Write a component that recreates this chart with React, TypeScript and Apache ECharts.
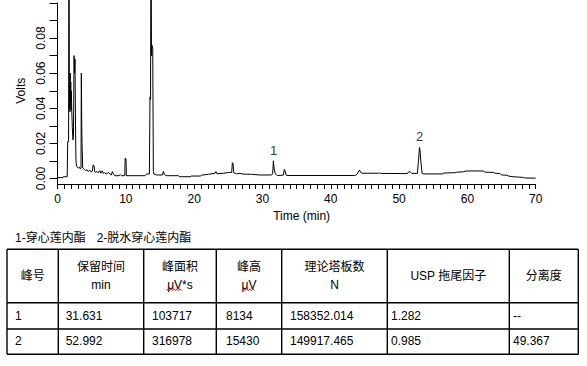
import React, { useEffect, useRef } from "react";
import * as echarts from "echarts";

// ---- chromatogram trace (time in min, signal in volts) ----
const traceTime = [
  0, 0.8, 0.85, 1.42, 1.49, 1.62, 1.68, 1.74, 1.78, 1.82, 1.86, 1.9, 1.94, 1.98, 2.03, 2.08, 2.17, 2.26, 2.34,
  2.42, 2.5, 2.56, 2.64, 2.7, 2.76, 2.85, 3.05, 3.2, 3.34, 3.44, 3.49, 3.55, 3.59, 3.69, 3.93, 4.13, 4.32, 4.51,
  4.71, 4.9, 5.1, 5.22, 5.35, 5.45, 5.59, 5.78, 5.97, 6.18, 6.35, 6.55, 6.7, 6.9, 7.1, 7.3, 7.5, 7.7, 7.85, 8.03,
  8.2, 8.4, 9.0, 9.2, 9.35, 9.85, 9.9, 10.03, 10.08, 12.8, 13.0, 13.45, 13.54, 13.62, 13.69, 13.76, 13.82, 13.94,
  14.03, 14.12, 14.5, 15.35, 15.5, 15.65, 16.0, 17.7, 17.9, 19.4, 19.6, 20.9, 21.1, 22.1, 23.06, 23.2, 23.35, 24.3,
  25.0, 25.5, 25.6, 25.7, 25.78, 26.2, 26.7, 27.2, 28.4, 29.6, 31.36, 31.5, 31.6, 31.68, 31.75, 31.9, 32.2, 33.06,
  33.2, 33.3, 33.46, 33.6, 43.5, 43.8, 44.2, 44.44, 44.7, 47.0, 47.1, 47.3, 51.2, 51.37, 51.6, 51.86, 52.68, 52.83,
  52.99, 53.1, 53.17, 53.37, 53.56, 56.4, 56.5, 58.2, 58.45, 59.4, 59.8, 62.3, 62.6, 63.8, 64.05, 64.8, 65.0, 65.8,
  66.0, 66.7, 68.2, 68.4, 70,
];
const traceVolts = [
  0.0005, 0.0005, 0.001, 0.001, 0.021, 0.021, 0.15, 0.04, 0.052, 0.038, 0.06, 0.044, 0.055, 0.039, 0.05, 0.04, 0.029,
  0.022, 0.024, 0.07, 0.06, 0.068, 0.03, 0.0105, 0.0077, 0.0067, 0.006, 0.0065, 0.0055, 0.006, 0.06, 0.03, 0.02,
  0.006, 0.0052, 0.0045, 0.005, 0.004, 0.0048, 0.0038, 0.0042, 0.0078, 0.0072, 0.0038, 0.0035, 0.004, 0.0032,
  0.0045, 0.003, 0.0044, 0.003, 0.0034, 0.0025, 0.003, 0.0034, 0.0025, 0.0019, 0.0039, 0.0025, 0.0016, 0.0016,
  0.0022, 0.0016, 0.0016, 0.0115, 0.0112, 0.0016, 0.0016, 0.0025, 0.0026, 0.0465, 0.045, 0.15, 0.07, 0.076, 0.074,
  0.004, 0.0025, 0.002, 0.002, 0.004, 0.0022, 0.0016, 0.0016, 0.001, 0.001, 0.0014, 0.0014, 0.0019, 0.0024, 0.003,
  0.0039, 0.0027, 0.003, 0.0034, 0.0035, 0.009, 0.0085, 0.0033, 0.0027, 0.0029, 0.0025, 0.0024, 0.002, 0.002, 0.003,
  0.0101, 0.007, 0.0048, 0.0026, 0.0017, 0.0019, 0.0052, 0.0045, 0.002, 0.0017, 0.0017, 0.0022, 0.0048, 0.0032,
  0.003, 0.003, 0.0033, 0.0029, 0.0028, 0.0037, 0.0039, 0.0029, 0.0029, 0.0096, 0.0177, 0.015, 0.0105, 0.0029,
  0.0026, 0.0026, 0.0031, 0.0033, 0.0036, 0.0038, 0.0043, 0.0043, 0.0036, 0.0035, 0.003, 0.0028, 0.002, 0.0019,
  0.0014, 0.001, 0.0006, 0.0003, 0.0002,
];

// ---- labelled peaks ----
const peakNames = ["1", "2"];
const peakTimes = [31.631, 52.992];
const peakHeights = [0.0101, 0.0177];

// ---- axis labels ----
const timeTickLabels = ["0", "10", "20", "30", "40", "50", "60", "70"];
const voltTickLabels = ["0.00", "0.02", "0.04", "0.06", "0.08"];

// ---- compound legend ----
const compoundLabels = ["1-穿心莲内酯", "2-脱水穿心莲内酯"];

// ---- result table ----
const tableHeaders = [
  ["峰号"],
  ["保留时间", "min"],
  ["峰面积", "μV*s"],
  ["峰高", "μV"],
  ["理论塔板数", "N"],
  ["USP 拖尾因子"],
  ["分离度"],
];
const tableRows = [
  ["1", "31.631", "103717", "8134", "158352.014", "1.282", "--"],
  ["2", "52.992", "316978", "15430", "149917.465", "0.985", "49.367"],
];

const FONT = '"Liberation Sans", Arial, "Noto Sans CJK SC", sans-serif';

export default function App() {
  const ref = useRef<HTMLDivElement>(null);

  useEffect(() => {
    if (!ref.current) return;
    const chart = echarts.init(ref.current, undefined, { renderer: "svg" });

    const trace = traceTime.map((t, i) => [t, traceVolts[i]]);
    const peaks = peakTimes.map((t, i) => ({ value: [t, peakHeights[i]], name: peakNames[i] }));

    // table geometry
    const colX = [7, 58.3, 143.7, 216.3, 281.7, 387.3, 509.3, 578.3];
    const rowY = [249.3, 302.7, 329, 354.3];
    const cellTextX = [15, 65.7, 152, 226, 290, 391, 513];
    const g: any[] = [];
    const ln = (x1: number, y1: number, x2: number, y2: number) =>
      g.push({ type: "line", shape: { x1, y1, x2, y2 }, style: { stroke: "#000", lineWidth: 1.4 } });
    colX.forEach((x) => ln(x, rowY[0], x, rowY[rowY.length - 1]));
    rowY.forEach((y) => ln(colX[0], y, colX[colX.length - 1], y));
    const txt = (text: string, x: number, y: number, align: string) =>
      g.push({
        type: "text",
        x,
        y,
        style: {
          text,
          font: `12px ${FONT}`,
          fill: "#000",
          textAlign: align,
          align,
          textVerticalAlign: "middle",
          verticalAlign: "middle",
        },
      });
    tableHeaders.forEach((lines, c) => {
      const cx = (colX[c] + colX[c + 1]) / 2;
      if (lines.length === 1) txt(lines[0], cx, 275.5, "center");
      else {
        txt(lines[0], cx, 266.5, "center");
        txt(lines[1], cx, 284.5, "center");
      }
    });
    const rowMid = [316, 341];
    tableRows.forEach((row, r) => row.forEach((v, c) => txt(v, cellTextX[c], rowMid[r], "left")));
    // compound legend
    txt(compoundLabels[0], 15, 237.5, "left");
    txt(compoundLabels[1], 96.7, 237.5, "left");
    // spell-check squiggles under μV units
    const squiggle = (x0: number, x1: number, y: number) => {
      const pts: number[][] = [];
      let k = 0;
      for (let x = x0; x <= x1; x += 1.5, k++) pts.push([x, k % 2 ? y - 1.2 : y + 0.6]);
      g.push({ type: "polyline", shape: { points: pts }, style: { stroke: "#e00000", lineWidth: 0.9, fill: null } });
    };
    squiggle(166.7, 181.7, 290);
    squiggle(242.3, 255, 290);
    // y-axis line continues down to the offset x axis
    g.push({ type: "line", shape: { x1: 57.5, y1: 178, x2: 57.5, y2: 184.5 }, style: { stroke: "#000", lineWidth: 1 } });

    chart.setOption({
      animation: false,
      backgroundColor: "#fff",
      textStyle: { fontFamily: FONT },
      grid: { left: 57.5, right: 51.3, top: 2.5, bottom: 187.5, containLabel: false },
      xAxis: {
        type: "value",
        min: 0,
        max: 70,
        interval: 1,
        offset: 5.5,
        axisLine: { onZero: false, lineStyle: { color: "#000", width: 1 } },
        axisTick: { show: true, length: 5, lineStyle: { color: "#000" } },
        splitLine: { show: false },
        axisLabel: {
          color: "#000",
          fontSize: 12,
          margin: 9,
          fontFamily: FONT,
          showMinLabel: true,
          showMaxLabel: true,
          formatter: (v: number) => {
            const s = String(Math.round(v));
            return timeTickLabels.includes(s) && Math.abs(v - Math.round(v)) < 1e-6 ? s : "";
          },
        },
        name: "Time (min)",
        nameLocation: "middle",
        nameGap: 26,
        nameTextStyle: { color: "#000", fontSize: 12, fontFamily: FONT, padding: [0, 0, 0, 10] },
      },
      yAxis: {
        type: "value",
        min: 0,
        max: 0.1,
        interval: 0.01,
        axisLine: { show: true, lineStyle: { color: "#000", width: 1 } },
        axisTick: { show: true, length: 8, lineStyle: { color: "#000" } },
        splitLine: { show: false },
        axisLabel: {
          color: "#000",
          fontSize: 12,
          fontFamily: FONT,
          rotate: 90,
          margin: 11,
          formatter: (v: number) => {
            const s = v.toFixed(2);
            return voltTickLabels.includes(s) ? s : "";
          },
        },
        name: "Volts",
        nameLocation: "middle",
        nameRotate: 90,
        nameGap: 28,
        nameTextStyle: { color: "#000", fontSize: 12, fontFamily: FONT },
      },
      series: [
        {
          type: "line",
          data: trace,
          showSymbol: false,
          symbol: "none",
          clip: false,
          lineStyle: { color: "#000", width: 1 },
          z: 2,
        },
        {
          type: "scatter",
          data: peaks,
          symbolSize: 2,
          itemStyle: { color: "rgba(0,0,0,0)" },
          label: {
            show: true,
            position: "top",
            distance: 3,
            formatter: (p: any) => p.name,
            color: "#000",
            fontSize: 13,
            fontFamily: FONT,
          },
          z: 3,
        },
      ],
      graphic: g,
    });

    return () => chart.dispose();
  }, []);

  return <div ref={ref} style={{ position: "fixed", left: 0, top: 0, width: 587, height: 366 }} />;
}
